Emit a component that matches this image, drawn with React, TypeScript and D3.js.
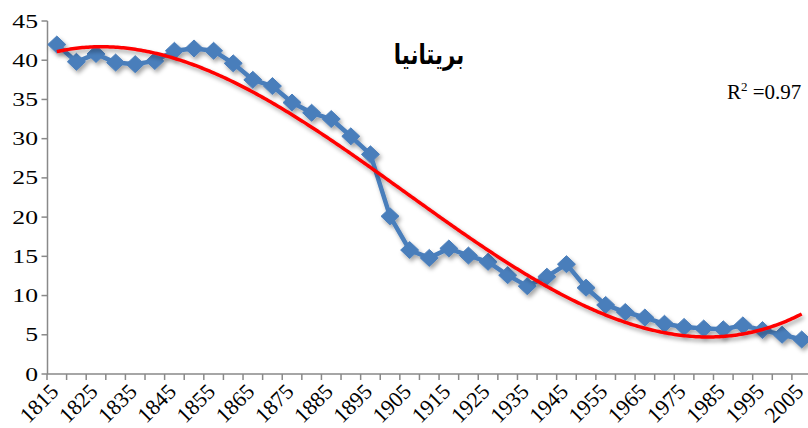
import React from 'react';
import * as d3 from 'd3';

const years = [1815,1820,1825,1830,1835,1840,1845,1850,1855,1860,1865,1870,1875,1880,1885,1890,1895,1900,1905,1910,1915,1920,1925,1930,1935,1940,1945,1950,1955,1960,1965,1970,1975,1980,1985,1990,1995,2000,2005];
const values = [42.0,39.8,40.8,39.7,39.5,39.9,41.2,41.5,41.2,39.6,37.5,36.7,34.6,33.3,32.5,30.3,28.0,20.1,15.8,14.8,16.0,15.1,14.3,12.6,11.2,12.4,14.0,11.0,8.8,7.9,7.2,6.4,6.0,5.8,5.7,6.2,5.6,5.0,4.4];
const xTickLabels = ['1815','1825','1835','1845','1855','1865','1875','1885','1895','1905','1915','1925','1935','1945','1955','1965','1975','1985','1995','2005'];
const yTicks = [0,5,10,15,20,25,30,35,40,45];
const titleText = 'بريتانيا';
const r2Text = '0.97';

function cubicFit(xs: number[], ys: number[]) {
  const n = 4;
  const A: number[][] = Array.from({ length: n }, () => new Array(n + 1).fill(0));
  xs.forEach((x, k) => {
    const p = [1, x, x * x, x * x * x];
    for (let i = 0; i < n; i++) {
      for (let j = 0; j < n; j++) A[i][j] += p[i] * p[j];
      A[i][n] += p[i] * ys[k];
    }
  });
  for (let i = 0; i < n; i++) {
    let m = i;
    for (let r = i + 1; r < n; r++) if (Math.abs(A[r][i]) > Math.abs(A[m][i])) m = r;
    [A[i], A[m]] = [A[m], A[i]];
    for (let r = 0; r < n; r++) {
      if (r === i) continue;
      const f = A[r][i] / A[i][i];
      for (let c = i; c <= n; c++) A[r][c] -= f * A[i][c];
    }
  }
  const coef = A.map((row, i) => row[n] / row[i]);
  return (x: number) => coef[0] + coef[1] * x + coef[2] * x * x + coef[3] * x * x * x;
}

export default function App() {
  const W = 808, H = 428;
  const x = d3.scaleBand<number>().domain(years).range([47, 811.5]).paddingInner(0).paddingOuter(0);
  const bw = x.bandwidth();
  const cx = (yr: number) => (x(yr) as number) + bw / 2;
  const y = d3.scaleLinear().domain([0, 45]).range([374, 21]);

  const t = years.map((yr) => (yr - 1910) / 95);
  const fit = cubicFit(t, values);
  const trendPts: [number, number][] = d3.range(0, 381).map((i) => {
    const yr = 1815 + (i / 380) * 190;
    return [yr, fit((yr - 1910) / 95)];
  });
  const xLin = d3.scaleLinear().domain([1815, 2005]).range([cx(1815), cx(2005)]);
  const trendPath = d3.line<[number, number]>().x((d) => xLin(d[0])).y((d) => y(d[1]))(trendPts) || '';
  const seriesPath = d3.line<number>().x((_, i) => cx(years[i])).y((d) => y(d))(values) || '';

  const axisColor = '#898989';
  const blue = '#4A7EBB';
  const sx = 1.35;
  const dW = 9, dH = 8.5;
  const diamond = `M0,${-dH}L${dW},0L0,${dH}L${-dW},0Z`;
  const tickBounds = [...years.map((yr) => x(yr) as number), (x(2005) as number) + bw];

  return (
    <svg width={W} height={H} style={{ position: 'absolute', left: 0, top: 0, background: '#fff' }}>
      <defs>
        <filter id="shadow" x="-10%" y="-10%" width="120%" height="130%">
          <feDropShadow dx="2" dy="3" stdDeviation="2" floodColor="#000" floodOpacity="0.35" />
        </filter>
      </defs>
      <rect x={0} y={0} width={W} height={H} fill="#fff" />
      <line x1={47.5} x2={47.5} y1={y(45)} y2={y(0)} stroke={axisColor} strokeWidth={1.5} />
      {yTicks.map((v) => (
        <g key={v}>
          <line x1={41.5} x2={47.5} y1={y(v)} y2={y(v)} stroke={axisColor} strokeWidth={1.5} />
          <text transform={`translate(38,${y(v) + 6.5}) scale(${sx},1)`} textAnchor="end" fontFamily="Liberation Serif, Times New Roman, serif" fontSize={19} fill="#000">{v}</text>
        </g>
      ))}
      <line x1={47} x2={808} y1={y(0)} y2={y(0)} stroke={axisColor} strokeWidth={1.5} />
      {tickBounds.map((b, i) => (
        <line key={i} x1={b} x2={b} y1={y(0)} y2={y(0) + 6} stroke={axisColor} strokeWidth={1.5} />
      ))}
      {xTickLabels.map((lab) => {
        const px = cx(+lab);
        return (
          <text key={lab} transform={`translate(${px + 3},${393}) rotate(-45)`} textAnchor="end" fontFamily="Liberation Serif, Times New Roman, serif" fontSize={22} fill="#000">{lab}</text>
        );
      })}
      <g filter="url(#shadow)">
        <path d={seriesPath} fill="none" stroke={blue} strokeWidth={4.5} strokeLinejoin="round" />
        {values.map((v, i) => (
          <path key={i} d={diamond} transform={`translate(${cx(years[i])},${y(v)})`} fill={blue} stroke={blue} strokeWidth={1} />
        ))}
      </g>
      <path d={trendPath} fill="none" stroke="#FF0000" strokeWidth={3.5} filter="url(#shadow)" />
      <text transform={`translate(429,64) scale(0.76,1)`} textAnchor="middle" fontFamily="DejaVu Sans, sans-serif" fontWeight="bold" fontSize={28} fill="#000" direction="rtl">{titleText}</text>
      <text x={727} y={99} fontFamily="Liberation Serif, Times New Roman, serif" fontSize={21} fill="#000">
        R<tspan dy={-8} fontSize={13}>2</tspan><tspan dy={8}> =</tspan>{r2Text}
      </text>
    </svg>
  );
}
